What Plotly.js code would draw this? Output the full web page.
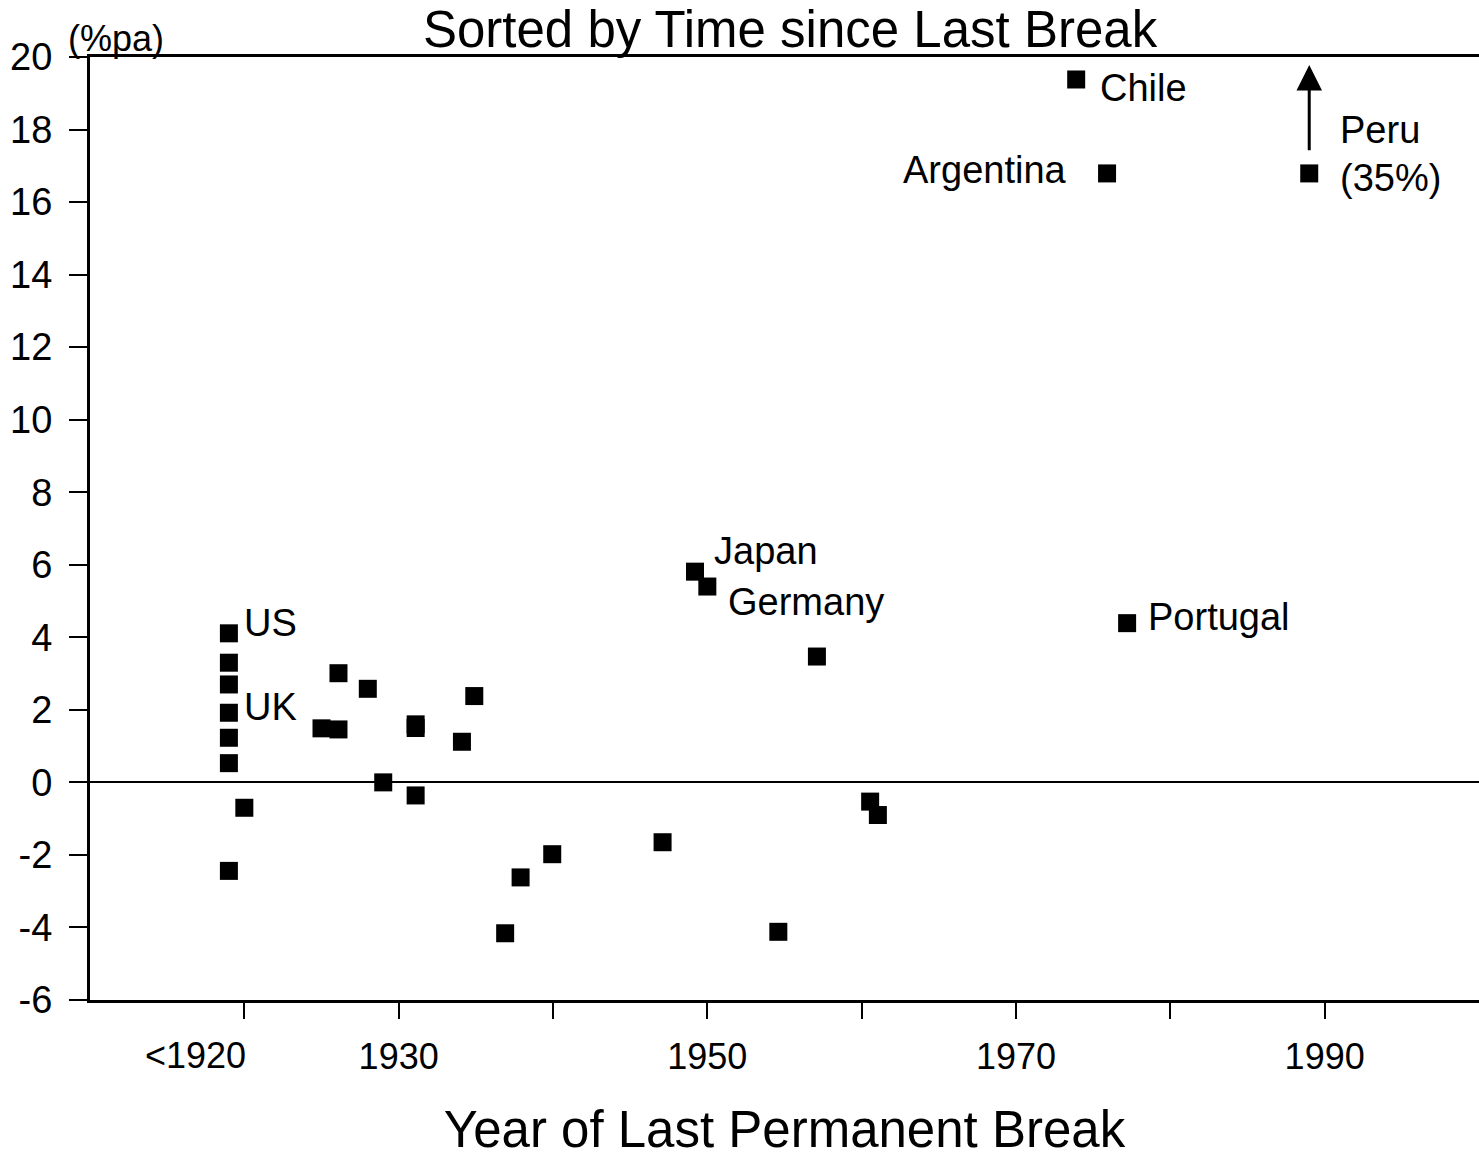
<!DOCTYPE html>
<html>
<head>
<meta charset="utf-8">
<script src="https://cdn.plot.ly/plotly-3.0.1.min.js"></script>
<style>
  html, body { margin: 0; padding: 0; background: #fff; }
  #chart { width: 1479px; height: 1158px; }
</style>
</head>
<body>
<div id="chart"></div>
<script>
// ---- data ----
const breakYears = [1919, 1919, 1919, 1919, 1919, 1919, 1919, 1920, 1925, 1926.1, 1926.1, 1928, 1929,
  1931.1, 1931.1, 1931.1, 1934.1, 1934.9, 1936.9, 1937.9, 1939.95, 1947.1, 1949.2, 1950,
  1954.6, 1957.1, 1960.55, 1961.05, 1973.9, 1975.9, 1977.2, 1989];
const growthPct = [4.11, 3.30, 2.70, 1.92, 1.23, 0.53, -2.44, -0.70, 1.49, 3.01, 1.46, 2.58, 0.0,
  1.60, 1.50, -0.36, 1.12, 2.38, -4.16, -2.62, -1.98, -1.65, 5.81, 5.40,
  -4.12, 3.47, -0.53, -0.90, 19.38, 16.79, 4.39, 16.79];

const labelText  = ['US', 'UK', 'Japan', 'Germany', 'Chile', 'Argentina', 'Portugal', 'Peru', '(35%)'];
const labelPoint = [0, 3, 22, 23, 28, 29, 30, 31, 31];   // index of the point each label belongs to

const xTickVals = [1920, 1930, 1940, 1950, 1960, 1970, 1980, 1990];
const xTickText = ['', '1930', '', '1950', '', '1970', '', '1990'];
const firstTickLabel = '<1920';
const yTickVals = [-6, -4, -2, 0, 2, 4, 6, 8, 10, 12, 14, 16, 18, 20];
const yTickText = ['-6', '-4', '-2', '0', '2', '4', '6', '8', '10', '12', '14', '16', '18', '20'];
const yRange = [-6, 20];
const xRange = [1910, 2000];

// ---- styling of labels (offsets in px relative to their point) ----
const labelStyle = {
  'US':        {xanchor: 'left',  xshift: 13,  yshift: 10},
  'UK':        {xanchor: 'left',  xshift: 13,  yshift: 6},
  'Japan':     {xanchor: 'left',  xshift: 17,  yshift: 21},
  'Germany':   {xanchor: 'left',  xshift: 19,  yshift: -15},
  'Chile':     {xanchor: 'left',  xshift: 22,  yshift: -9},
  'Argentina': {xanchor: 'right', xshift: -38, yshift: 3},
  'Portugal':  {xanchor: 'left',  xshift: 19,  yshift: 6},
  'Peru':      {xanchor: 'left',  xshift: 29,  yshift: 43},
  '(35%)':     {xanchor: 'left',  xshift: 29,  yshift: -5}
};

const FONT = 'Liberation Sans, Arial, Helvetica, sans-serif';

const trace = {
  type: 'scatter',
  mode: 'markers',
  x: breakYears,
  y: growthPct,
  marker: {symbol: 'square', size: 18, color: '#000'},
  hoverinfo: 'x+y',
  showlegend: false
};

const annotations = labelText.map((t, i) => {
  const p = labelPoint[i];
  const s = labelStyle[t];
  return {
    x: breakYears[p], y: growthPct[p], xref: 'x', yref: 'y',
    text: t, showarrow: false,
    xanchor: s.xanchor, yanchor: 'middle',
    xshift: s.xshift, yshift: s.yshift,
    font: {family: FONT, size: 38, color: '#000'}
  };
});

// arrow above Peru (value off the scale: 35%)
const peruIdx = labelPoint[labelText.indexOf('Peru')];
annotations.push({
  x: breakYears[peruIdx], y: yRange[1] - 0.22, xref: 'x', yref: 'y',
  ax: breakYears[peruIdx], ay: growthPct[peruIdx] + 0.6, axref: 'x', ayref: 'y',
  showarrow: true, arrowhead: 2, arrowsize: 1.7, arrowwidth: 3, arrowcolor: '#000',
  text: ''
});

// "<1920" tick label
annotations.push({
  x: xTickVals[0], y: 0, xref: 'x', yref: 'paper',
  text: firstTickLabel, showarrow: false,
  xanchor: 'right', yanchor: 'middle', xshift: 4, yshift: -55,
  font: {family: FONT, size: 36, color: '#000'}
});

// unit label
annotations.push({
  x: 0, y: 1, xref: 'paper', yref: 'paper',
  text: '(%pa)', showarrow: false,
  xanchor: 'left', yanchor: 'bottom', xshift: -24, yshift: -4,
  font: {family: FONT, size: 36, color: '#000'}
});

const layout = {
  width: 1479, height: 1158,
  margin: {l: 90, r: 0, t: 57, b: 158},
  paper_bgcolor: '#fff', plot_bgcolor: '#fff',
  font: {family: FONT, color: '#000'},
  title: {
    text: 'Sorted by Time since Last Break',
    font: {family: FONT, size: 51, color: '#000'},
    x: 0.504, xref: 'paper', xanchor: 'center',
    y: 1 - 29 / 1158, yref: 'container', yanchor: 'middle'
  },
  xaxis: {
    range: xRange, tickmode: 'array', tickvals: xTickVals, ticktext: xTickText,
    ticks: 'outside', ticklen: 16, tickwidth: 2, tickcolor: '#000',
    ticklabelstandoff: 7,
    tickfont: {family: FONT, size: 36, color: '#000'},
    showline: true, linewidth: 3, linecolor: '#000', mirror: true,
    showgrid: false, zeroline: false,
    title: {text: 'Year of Last Permanent Break', font: {family: FONT, size: 51, color: '#000'}, standoff: 50}
  },
  yaxis: {
    range: yRange, tickmode: 'array', tickvals: yTickVals, ticktext: yTickText,
    ticks: 'outside', ticklen: 18, tickwidth: 2, tickcolor: '#000',
    ticklabelstandoff: 9,
    tickfont: {family: FONT, size: 38, color: '#000'},
    showline: true, linewidth: 3, linecolor: '#000',
    showgrid: false, zeroline: true, zerolinewidth: 2, zerolinecolor: '#000'
  },
  annotations: annotations
};

Plotly.newPlot('chart', [trace], layout, {displayModeBar: false, staticPlot: true});
</script>
</body>
</html>
